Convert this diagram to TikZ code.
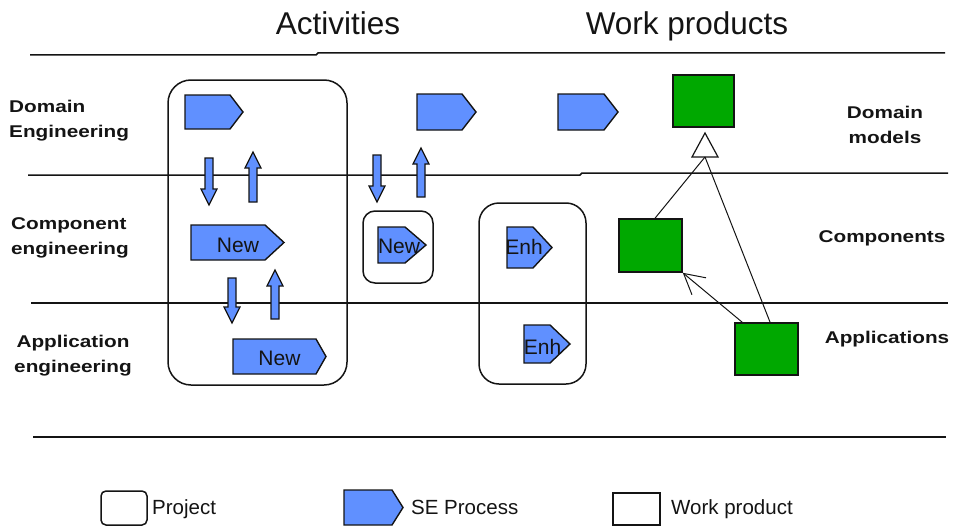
\documentclass[tikz,border=0pt]{standalone}
\usepackage{fontspec}
\setmainfont{Liberation Sans}
\newfontfamily\lblfont{Liberation Sans}[FakeStretch=1.22]
\usetikzlibrary{arrows.meta,calc}
\definecolor{procblue}{RGB}{96,144,255}
\definecolor{wpgreen}{RGB}{0,168,0}
\definecolor{ink}{RGB}{20,20,20}

\tikzset{
  lane/.style={line width=1.5pt, draw=ink},
  project/.style={draw=ink, line width=1.5pt},
  procshape/.style={fill=procblue, draw=ink, line width=1.4pt, line join=miter},
  flowarrow/.style={fill=procblue, draw=ink, line width=1.2pt},
  workprod/.style={draw=ink, line width=1.6pt, fill=wpgreen, inner sep=0pt},
  rowlabel/.style={font=\lblfont\bfseries\fontsize{17}{25}\selectfont, inner sep=0pt, text=ink},
  heading/.style={font=\fontsize{31.5}{36}\selectfont, inner sep=0pt, text=ink},
  legendtext/.style={font=\fontsize{20.5}{24}\selectfont, anchor=base west, inner sep=0pt, text=ink},
  proctext/.style={font=\fontsize{21}{24}\selectfont, anchor=base, inner sep=0pt, text=ink},
  link/.style={line width=1pt, draw=ink},
}

% SE process shape: x1, y1, x2, y2, depth of the pointed end
\newcommand\seproc[5]{%
  \draw[procshape] (#1,#2) -- ({#3-#5},#2) -- (#3,{(#2+#4)/2}) -- ({#3-#5},#4) -- (#1,#4) -- cycle;}
% block arrow pointing down: x, top, tip
\newcommand\flowdown[3]{%
  \draw[flowarrow] ({#1-4},#2) -- ({#1+4},#2) -- ({#1+4},{#3-16}) -- ({#1+8},{#3-16})
    -- (#1,#3) -- ({#1-8},{#3-16}) -- ({#1-4},{#3-16}) -- cycle;}
% block arrow pointing up: x, bottom, tip
\newcommand\flowup[3]{%
  \draw[flowarrow] ({#1-4},#2) -- ({#1+4},#2) -- ({#1+4},{#3+16}) -- ({#1+8},{#3+16})
    -- (#1,#3) -- ({#1-8},{#3+16}) -- ({#1-4},{#3+16}) -- cycle;}

\begin{document}
\begin{tikzpicture}[x=1pt, y=-1pt]
  \useasboundingbox (0,0) rectangle (957,527);

  % column headings
  \node[heading, anchor=base] (act) at (338,35) {Activities};
  \node[heading, anchor=base] (wpr) at (687,35) {Work products};

  % lane separators
  \draw[lane] (30,55) -- (316,55) -- (318,53) -- (945,53);
  \draw[lane] (28,175) -- (580,175) -- (582,173) -- (948,173);
  \draw[lane] (31,303) -- (948,303);
  \draw[lane] (33,437) -- (946,437);

  % lane labels
  \node[rowlabel, align=left, anchor=west] (ldom) at (9,121) {Domain\\Engineering};
  \node[rowlabel, align=left, anchor=west] (lcomp) at (11,238) {Component\\engineering};
  \node[rowlabel, align=center] (lapp) at (73,356) {Application\\engineering};
  \node[rowlabel, align=center] (rdom) at (885,125) {Domain\\models};
  \node[rowlabel] (rcomp) at (882,238) {Components};
  \node[rowlabel] (rapp) at (887,339) {Applications};

  % projects
  \draw[project, rounded corners=23] (168,80) rectangle (347,385);
  \draw[project, rounded corners=12] (363,211) rectangle (433,283);
  \draw[project, rounded corners=20] (479,203) rectangle (586,384);

  % SE processes
  \seproc{185}{95}{243}{129}{13}
  \seproc{417}{94}{476}{130}{14}
  \seproc{558}{94}{618}{130}{14}
  \seproc{191}{225}{284}{260}{19}
  \seproc{233}{339}{326}{374}{10}
  \seproc{378}{227}{426}{263}{21}
  \seproc{507}{227}{552}{268}{19}
  \seproc{524}{325}{570}{363}{20}
  \node[proctext] (new1) at (238,252) {New};
  \node[proctext] (new2) at (279.5,365) {New};
  \node[proctext] (new3) at (399,253) {New};
  \node[proctext] (enh1) at (524,254) {Enh};
  \node[proctext] (enh2) at (542.5,354) {Enh};

  % flows between lanes
  \flowdown{209}{158}{205}
  \flowup{253}{202}{152}
  \flowdown{232}{278}{323}
  \flowup{275}{319}{270}
  \flowdown{377}{155}{202}
  \flowup{421}{197}{148}

  % work products
  \node[workprod, minimum width=61pt, minimum height=52pt] (dm) at (703.5,101) {};
  \node[workprod, minimum width=63pt, minimum height=53pt] (comp) at (650.5,245.5) {};
  \node[workprod, minimum width=63pt, minimum height=52pt] (app) at (766.5,349) {};

  % generalisation towards the domain models
  \coordinate (tribase) at (705,157);
  \draw[link, line width=1.2pt, fill=white] ($(tribase)+(-13,0)$) -- (705,133) -- ($(tribase)+(13,0)$) -- cycle;
  \draw[link] ($(comp.north west)!0.57!(comp.north east)$) -- (tribase);
  \draw[link] ($(app.north west)!0.555!(app.north east)$) -- (tribase);
  \draw[link, -{Straight Barb[length=20pt, width=22pt]}] ($(app.north west)+(8,0)$) -- (comp.south east);

  % legend
  \draw[project, rounded corners=5] (101,491) rectangle (147,525);
  \node[legendtext] (lgproj) at (152,514) {Project};
  \seproc{344}{490}{403}{525}{11}
  \node[legendtext] (lgproc) at (411,514) {SE Process};
  \node[draw=ink, line width=1.6pt, fill=white, minimum width=47pt, minimum height=32pt, inner sep=0pt] (lgwp) at (636.5,509) {};
  \node[legendtext] (lgwptext) at (671,514) {Work product};
\end{tikzpicture}
\end{document}
